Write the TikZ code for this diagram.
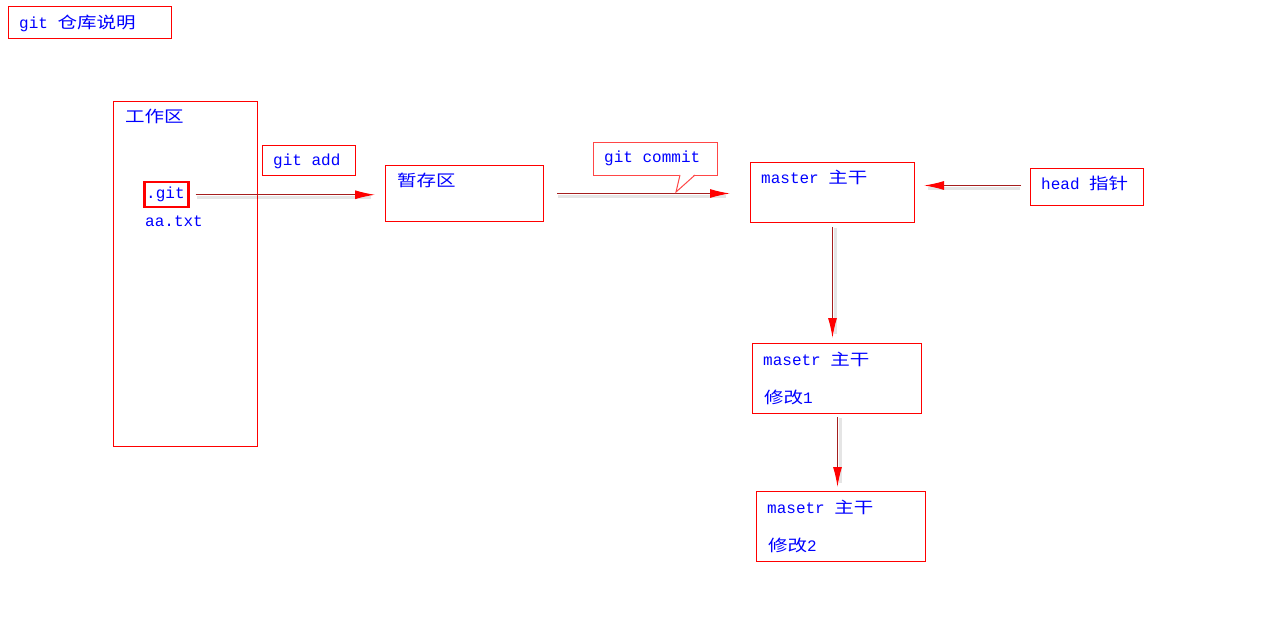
\documentclass[tikz,border=0pt]{standalone}
\usepackage{fontspec}
\setmonofont{Liberation Mono}
\newfontfamily\cjk[FakeStretch=1.22]{Noto Sans CJK SC}
\newcommand\zh[1]{{\cjk #1}}
\usetikzlibrary{arrows.meta,calc}
\definecolor{txtblue}{RGB}{0,0,255}
\definecolor{boxred}{RGB}{255,0,0}
\definecolor{linered}{RGB}{165,30,30}
\definecolor{callred}{RGB}{255,70,70}
\tikzset{
  box/.style={draw=boxred,line width=1pt,inner sep=0pt,anchor=north west},
  lbl/.style={anchor=base west,inner sep=0pt,text=txtblue,font=\ttfamily\fontsize{16}{18}\selectfont},
  arr/.style={draw=linered,line width=1.2pt,-{Latex[length=20pt,width=9pt,color=red]}},
  shadowline/.style={draw=black,opacity=0.1,line width=3pt}
}
\begin{document}
\begin{tikzpicture}[x=1pt,y=-1pt]
\useasboundingbox (0,0) rectangle (1275,631);
% boxes
\node[box,minimum width=163pt,minimum height=32pt] (title) at (8,6) {};
\node[box,minimum width=144pt,minimum height=345pt] (work) at (113,101) {};
\node[box,line width=2.5pt,minimum width=44pt,minimum height=25pt] (gitf) at (143,181) {};
\node[box,minimum width=93pt,minimum height=30pt] (addl) at (262,145) {};
\node[box,minimum width=158pt,minimum height=56pt] (stage) at (385,165) {};
\node[box,minimum width=164pt,minimum height=60pt] (master) at (750,162) {};
\node[box,minimum width=113pt,minimum height=37pt] (head) at (1030,168) {};
\node[box,minimum width=169pt,minimum height=70pt] (m1) at (752,343) {};
\node[box,minimum width=169pt,minimum height=70pt] (m2) at (756,491) {};
% texts
\node[lbl] (t0) at (19,29) {git \zh{仓库说明}};
\node[lbl] (t1) at (125,123) {\zh{工作区}};
\node[lbl] (t2) at (146,199) {.git};
\node[lbl] (t3) at (145,227) {aa.txt};
\node[lbl] (t4) at (273,166) {git add};
\node[lbl] (t5) at (397,187) {\zh{暂存区}};
\node[lbl] (t7) at (761,184) {master \zh{主干}};
\node[lbl] (t8) at (1041,190) {head \zh{指针}};
\node[lbl] (t9) at (763,365) {masetr \zh{主干}};
\node[lbl] (t10) at (764,403) {\zh{修改}1};
\node[lbl] (t11) at (767,513) {masetr \zh{主干}};
\node[lbl] (t12) at (768,551) {\zh{修改}2};
% connectors
\coordinate (a1s) at ($(gitf.east)+(6,0)$);
\coordinate (a1e) at ($(stage.west |- a1s)+(-10,0)$);
\draw[shadowline] ($(a1s)+(1,3)$) -- ($(a1e)+(-4,3)$);
\draw[arr] (a1s) -- (a1e);
\coordinate (a2s) at ($(stage.east)+(13,0)$);
\coordinate (a2e) at ($(master.west |- a2s)+(-20,0)$);
\draw[shadowline] ($(a2s)+(1,3)$) -- ($(a2e)+(-4,3)$);
\draw[arr] (a2s) -- (a2e);
\coordinate (a3s) at ($(head.west)+(-9,-1.5)$);
\coordinate (a3e) at ($(master.east |- a3s)+(9,0)$);
\draw[shadowline] ($(a3s)+(-1,3)$) -- ($(a3e)+(4,3)$);
\draw[arr] (a3s) -- (a3e);
\coordinate (a4s) at ($(master.south)+(0,4)$);
\coordinate (a4e) at ($(master.south |- m1.north)+(0,-5)$);
\draw[shadowline] ($(a4s)+(3,1)$) -- ($(a4e)+(3,-4)$);
\draw[arr] (a4s) -- (a4e);
\coordinate (a5s) at ($(m1.south)+(0.5,3)$);
\coordinate (a5e) at ($(a5s |- m2.north)+(0,-4)$);
\draw[shadowline] ($(a5s)+(3,1)$) -- ($(a5e)+(3,-4)$);
\draw[arr] (a5s) -- (a5e);
% callout
\node[box,draw=callred,fill=white,minimum width=124pt,minimum height=33pt] (commit) at (593,142) {};
\fill[white] (680,174) -- (676,192) -- (695,174) -- cycle;
\draw[callred,line width=1pt] (680,175) -- (676,192) -- (695,175);
\node[lbl] (t6) at (604,163) {git commit};
\end{tikzpicture}
\end{document}
